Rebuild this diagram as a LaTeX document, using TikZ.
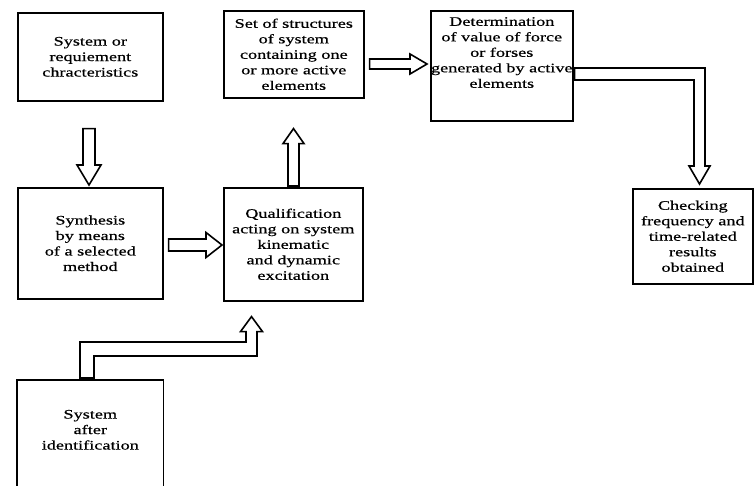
\documentclass[tikz,border=0pt]{standalone}
\usepackage{fontspec}
\setmainfont{Liberation Serif}[FakeStretch=1.4,FakeBold=0.5]
\usetikzlibrary{calc}
\tikzset{
  box/.style={draw=black, line width=1.6pt, inner sep=0pt, align=center,
    anchor=north west, font=\fontsize{13}{15.5}\selectfont},
  boxtext/.style={inner sep=0pt, align=center, anchor=north,
    font=\fontsize{13}{15.5}\selectfont},
  blockarrow/.style={draw=black, fill=white, line width=1.6pt, line join=miter}
}
% straight hollow block arrow: #1 base, #2 tip, #3 half shaft, #4 half head, #5 head length
\newcommand\hollowarrow[5]{%
  \draw[blockarrow]
    ($(#1)!#3!90:(#2)$) --
    ($($(#2)!#5!(#1)$)!#3!90:(#2)$) --
    ($($(#2)!#5!(#1)$)!#4!90:(#2)$) --
    (#2) --
    ($($(#2)!#5!(#1)$)!#4!-90:(#2)$) --
    ($($(#2)!#5!(#1)$)!#3!-90:(#2)$) --
    ($(#1)!#3!-90:(#2)$) -- cycle;}
\begin{document}
\begin{tikzpicture}[x=1pt,y=-1pt]
\useasboundingbox (0,0) rectangle (754,486);
\clip (0,0) rectangle (754,486);

\node[box, minimum width=145pt, minimum height=88pt] (b1) at (17,12)
  {System or\\requiement\\chracteristics};
\node[box, minimum width=140pt, minimum height=87pt] (b2) at (223,10)
  {Set of structures\\of system\\containing one\\or more active\\elements};
\node[box, minimum width=142pt, minimum height=110pt] (b3) at (430,10) {};
\node[boxtext] (b3t) at ($(b3.north)+(0,7)$)
  {Determination\\of value of force\\or forses\\generated by active\\elements};
\node[box, minimum width=120pt, minimum height=95pt] (b4) at (632,188)
  {Checking\\frequency and\\time-related\\results\\obtained};
\node[box, minimum width=145pt, minimum height=111pt] (b5) at (17,187)
  {Synthesis\\by means\\of a selected\\method};
\node[box, minimum width=139pt, minimum height=113pt] (b6) at (223,187)
  {Qualification\\acting on system\\kinematic\\and dynamic\\excitation};
\node[box, draw=none, minimum width=145pt, minimum height=98pt] (b7) at (17,380)
  {System\\after\\identification};
\draw[line width=1.6pt] (b7.west |- 0,495) -- (b7.north west) -- (b7.north east) -- (b7.east |- 0,495);

% straight arrows
\coordinate (a1s) at ($(b1.south -| 89,0)+(0,27)$);
\coordinate (a1t) at ($(b5.north -| 89,0)+(0,-2)$);
\hollowarrow{a1s}{a1t}{6pt}{12pt}{20pt}

\coordinate (a2s) at ($(b6.north -| 293.5,0)+(0,-1)$);
\coordinate (a2t) at ($(b2.south -| 293.5,0)+(0,30)$);
\hollowarrow{a2s}{a2t}{5.5pt}{10.5pt}{15pt}

\coordinate (a3s) at ($(b5.east |- 0,245)+(5,0)$);
\coordinate (a3t) at ($(b6.west |- 0,245)+(-1,0)$);
\hollowarrow{a3s}{a3t}{6pt}{12.5pt}{16pt}

\coordinate (a4s) at ($(b2.east |- 0,64)+(5,0)$);
\coordinate (a4t) at ($(b3.west |- 0,64)+(-3,0)$);
\hollowarrow{a4s}{a4t}{5pt}{10pt}{17pt}

% elbow arrow b3 -> b4
\coordinate (e1s) at ($(b3.east |- 0,74)+(1,0)$);
\coordinate (e1c) at (699.5,74);
\coordinate (e1t) at ($(b4.north -| e1c)+(0,-4)$);
\draw[blockarrow] ($(e1s)+(0,-6)$) -- ($(e1c)+(5.5,-6)$) -- ($(e1t)+(5.5,-18)$)
  -- ($(e1t)+(10.5,-18)$) -- (e1t) -- ($(e1t)+(-10.5,-18)$) -- ($(e1t)+(-5.5,-18)$)
  -- ($(e1c)+(-5.5,6)$) -- ($(e1s)+(0,6)$) -- cycle;

% elbow arrow b7 -> b6
\coordinate (e2s) at ($(b7.north -| 87,0)+(0,-2)$);
\coordinate (e2c) at (87,349);
\coordinate (e2d) at (251.5,349);
\coordinate (e2t) at ($(b6.south -| e2d)+(0,15)$);
\draw[blockarrow] ($(e2s)+(-7,0)$) -- ($(e2c)+(-7,-7)$) -- ($(e2d)+(-5.5,-7)$)
  -- ($(e2t)+(-5.5,15)$) -- ($(e2t)+(-11,15)$) -- (e2t) -- ($(e2t)+(11,15)$)
  -- ($(e2t)+(5.5,15)$) -- ($(e2d)+(5.5,7)$) -- ($(e2c)+(7,7)$) -- ($(e2s)+(7,0)$) -- cycle;
\end{tikzpicture}
\end{document}
